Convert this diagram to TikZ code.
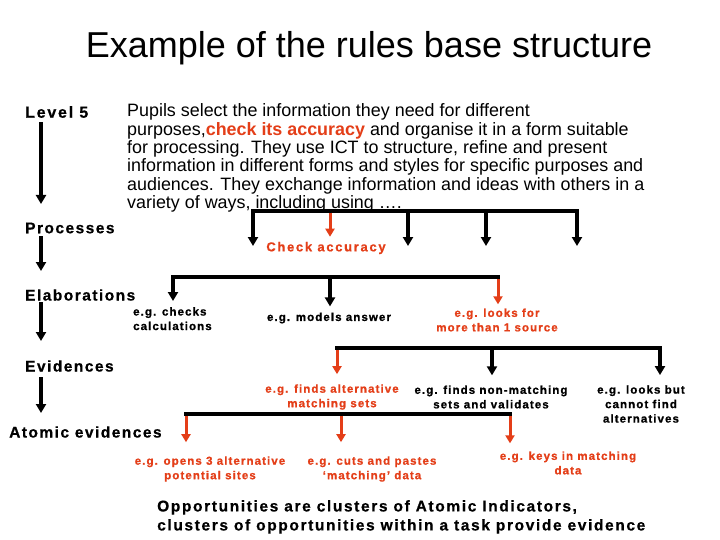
\documentclass[tikz,border=0pt]{standalone}
\usepackage{fontspec}
\setmainfont{Liberation Sans}
\usetikzlibrary{arrows.meta}
\definecolor{myred}{RGB}{228,62,24}
\begin{document}
\begin{tikzpicture}[x=1pt,y=-1pt,
  bar/.style={line width=3.5pt,line cap=rect},
  arr/.style={line width=3.5pt,line cap=rect,-{Triangle[width=10pt,length=9pt]}},
  rarr/.style={line width=3pt,line cap=butt,myred,-{Triangle[width=9pt,length=8pt]}},
  lvl/.style={font=\fontsize{15.5}{18}\selectfont\bfseries\addfontfeatures{LetterSpace=9.5,FakeBold=0.6},anchor=west,inner sep=0pt},
  lab/.style={font=\fontsize{11.5}{14.5}\selectfont\bfseries\addfontfeatures{LetterSpace=9.5,FakeBold=1},align=center,inner sep=0pt},
  rlab/.style={lab,text=myred},
]
\useasboundingbox (0,0) rectangle (720,540);
\fill[white] (0,0) rectangle (720,540);

\node[font=\fontsize{36}{40}\selectfont] (title) at (369,48) {Example of the rules base structure};

\node[lvl,font=\fontsize{16}{18}\selectfont\bfseries\addfontfeatures{LetterSpace=11,FakeBold=0.6}] (l5) at (25,112) {Level 5};
\node[anchor=north west,align=left,inner sep=0pt,font=\fontsize{17.9}{18.4}\selectfont] (para) at (127,103.5)
 {Pupils select the information they need for different\\
  purposes,{\color{myred}\bfseries check its accuracy} and organise it in a form suitable\\
  for processing. They use ICT to structure, refine and present\\
  information in different forms and styles for specific purposes and\\
  audiences. They exchange information and ideas with others in a\\
  variety of ways, including using ….};

\node[lvl] (proc) at (25,228) {Processes};
\node[lvl] (elab) at (25,295) {Elaborations};
\node[lvl] (evid) at (25,366) {Evidences};
\node[lvl] (atom) at (9,432) {Atomic evidences};

% left chain
\coordinate (a1) at (41,124); \coordinate (a2) at (41,204);
\coordinate (b1) at (41,238); \coordinate (b2) at (41,271);
\coordinate (c1) at (41,304); \coordinate (c2) at (41,341);
\coordinate (d1) at (41,379); \coordinate (d2) at (41,413);
\draw[arr] (a1) -- (a2);
\draw[arr] (b1) -- (b2);
\draw[arr] (c1) -- (c2);
\draw[arr] (d1) -- (d2);

% labels
\node[font=\fontsize{13}{15}\selectfont\bfseries\addfontfeatures{LetterSpace=13,FakeBold=0.6},text=myred,inner sep=0pt] (ca) at (326,248) {Check accuracy};
\node[lab,align=left,anchor=north west] (chk) at (133,307) {e.g. checks\\calculations};
\node[lab] (mod) at (329,318) {e.g. models answer};
\node[rlab] (look) at (497,320) {e.g. looks for\\more than\ 1 source};
\node[rlab] (alt) at (332,397) {e.g. finds alternative\\matching sets};
\node[lab] (nonm) at (491,397) {e.g. finds non-matching\\sets and validates};
\node[lab] (lbut) at (641,404) {e.g. looks but\\cannot find\\alternatives};
\node[rlab] (opens) at (210,469) {e.g. opens 3 alternative\\potential sites};
\node[rlab] (cuts) at (372,469) {e.g. cuts and pastes\\‘matching’ data};
\node[rlab] (keys) at (568,463) {e.g. keys in matching\\data};
\node[anchor=north west,align=left,inner sep=0pt,font=\fontsize{15.5}{19}\selectfont\bfseries\addfontfeatures{LetterSpace=10.5,FakeBold=0.6}] (opp) at (157,500)
 {Opportunities are clusters of Atomic Indicators,\\clusters of opportunities within a task provide evidence};

% top bracket
\coordinate (t0) at (253,211); \coordinate (t1) at (577,211);
\coordinate (tr) at (330,211); \coordinate (tb) at (408,211); \coordinate (tc) at (486,211);
\draw[bar] (t0) -- (t1);
\coordinate (ta') at (253,246); \coordinate (tb') at (408,246); \coordinate (tc') at (486,246); \coordinate (td') at (577,246);
\draw[arr] (t0) -- (ta');
\draw[arr] (tb) -- (tb');
\draw[arr] (tc) -- (tc');
\draw[arr] (t1) -- (td');
\draw[rarr] ([yshift=-1.75pt]tr) -- ([yshift=5pt]tr |- ca.north);

% elaborations bracket
\coordinate (e0) at (173,277); \coordinate (e1) at (330,277); \coordinate (e2) at (498,277);
\draw[bar] (e0) -- (e2);
\draw[arr] (e0) -- ([yshift=6pt]e0 |- chk.north);
\draw[arr] (e1) -- ([yshift=6pt]e1 |- mod.north);
\draw[rarr] ([yshift=-1.75pt]e2) -- ([yshift=4pt]e2 |- look.north);

% evidences bracket
\coordinate (v0) at (337,348); \coordinate (v1) at (492,348); \coordinate (v2) at (660,348);
\draw[bar] (v0) -- (v2);
\draw[rarr] ([yshift=-1.75pt]v0) -- ([yshift=10pt]v0 |- alt.north);
\draw[arr] (v1) -- ([yshift=10pt]v1 |- nonm.north);
\draw[arr] (v2) -- ([yshift=10pt]v2 |- lbut.north);

% atomic bracket
\coordinate (m0) at (186,414); \coordinate (m1) at (341,414); \coordinate (m2) at (510,414);
\draw[bar] (m0) -- (m2);
\draw[rarr] ([yshift=-1.75pt]m0) -- ([yshift=14pt]m0 |- opens.north);
\draw[rarr] ([yshift=-1.75pt]m1) -- ([yshift=14pt]m1 |- cuts.north);
\draw[rarr] ([yshift=-1.75pt]m2) -- ([yshift=8pt]m2 |- keys.north);
\end{tikzpicture}
\end{document}
